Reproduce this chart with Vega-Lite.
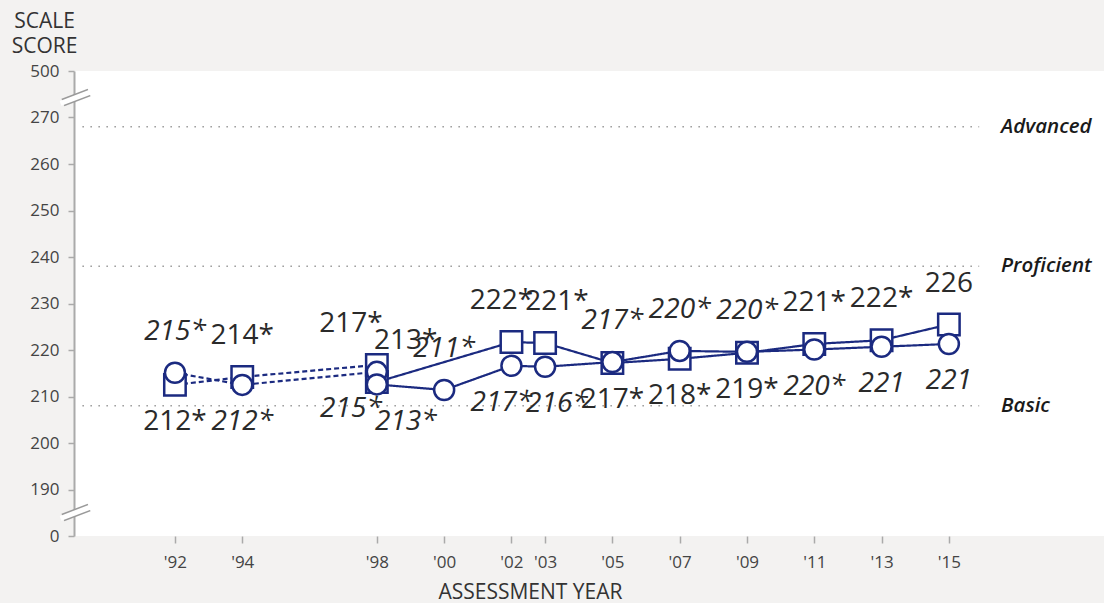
{
  "$schema": "https://vega.github.io/schema/vega-lite/v6.json",
  "width": 1030,
  "height": 465,
  "autosize": "none",
  "padding": {"left": 74, "top": 71, "right": 0, "bottom": 67},
  "background": "#f3f2f1",
  "config": {
    "view": {"fill": "white", "stroke": null},
    "font": "Open Sans",
    "axis": {"labelFont": "Open Sans", "titleFont": "Open Sans", "grid": false}
  },
  "datasets": {
    "scores": [
      {"year": 1992, "series": "sq", "accom": "np", "score": 212.5, "label": "212*"},
      {"year": 1994, "series": "sq", "accom": "np", "score": 214.2, "label": "214*"},
      {"year": 1998, "series": "sq", "accom": "np", "score": 216.8, "label": "217*"},
      {"year": 1998, "series": "sq", "accom": "p", "score": 213.1, "label": "213*"},
      {"year": 2002, "series": "sq", "accom": "p", "score": 221.7, "label": "222*"},
      {"year": 2003, "series": "sq", "accom": "p", "score": 221.5, "label": "221*"},
      {"year": 2005, "series": "sq", "accom": "p", "score": 217.2, "label": "217*"},
      {"year": 2007, "series": "sq", "accom": "p", "score": 218.1, "label": "218*"},
      {"year": 2009, "series": "sq", "accom": "p", "score": 219.4, "label": "219*"},
      {"year": 2011, "series": "sq", "accom": "p", "score": 221.3, "label": "221*"},
      {"year": 2013, "series": "sq", "accom": "p", "score": 222.1, "label": "222*"},
      {"year": 2015, "series": "sq", "accom": "p", "score": 225.5, "label": "226"},
      {"year": 1992, "series": "ci", "accom": "np", "score": 215.1, "label": "215*"},
      {"year": 1994, "series": "ci", "accom": "np", "score": 212.5, "label": "212*"},
      {"year": 1998, "series": "ci", "accom": "np", "score": 215.3, "label": "215*"},
      {"year": 1998, "series": "ci", "accom": "p", "score": 212.6, "label": "213*"},
      {"year": 2000, "series": "ci", "accom": "p", "score": 211.4, "label": "211*"},
      {"year": 2002, "series": "ci", "accom": "p", "score": 216.6, "label": "217*"},
      {"year": 2003, "series": "ci", "accom": "p", "score": 216.4, "label": "216*"},
      {"year": 2005, "series": "ci", "accom": "p", "score": 217.4, "label": "217*"},
      {"year": 2007, "series": "ci", "accom": "p", "score": 219.8, "label": "220*"},
      {"year": 2009, "series": "ci", "accom": "p", "score": 219.6, "label": "220*"},
      {"year": 2011, "series": "ci", "accom": "p", "score": 220.1, "label": "220*"},
      {"year": 2013, "series": "ci", "accom": "p", "score": 220.7, "label": "221"},
      {"year": 2015, "series": "ci", "accom": "p", "score": 221.3, "label": "221"}
    ],
    "levels": [
      {"level": "Advanced", "score": 268},
      {"level": "Proficient", "score": 238},
      {"level": "Basic", "score": 208}
    ],
    "breaks": [
      {"year": 1988.67, "year2": 1989.45, "score": 273.23, "score2": 275.38},
      {"year": 1988.67, "year2": 1989.45, "score": 183.98, "score2": 186.13}
    ]
  },
  "encoding": {
    "x": {
      "field": "year",
      "type": "quantitative",
      "scale": {"domain": [1989, 2019.61], "nice": false, "zero": false},
      "axis": {
        "values": [1992, 1994, 1998, 2000, 2002, 2003, 2005, 2007, 2009, 2011, 2013, 2015],
        "labelExpr": "\"'\" + substring(toString(datum.value), 2)",
        "domain": false,
        "ticks": true,
        "tickColor": "#aaaaaa",
        "tickSize": 7,
        "tickWidth": 1.5,
        "labelPadding": 11,
        "labelFontSize": 17,
        "labelColor": "#444444",
        "title": "ASSESSMENT YEAR",
        "titleFontSize": 21,
        "titleFontWeight": "normal",
        "titleColor": "#333333",
        "titleX": 456,
        "titleY": 62,
        "titleAlign": "center",
        "titleBaseline": "alphabetic"
      }
    },
    "y": {
      "field": "score",
      "type": "quantitative",
      "scale": {"domain": [180, 280], "nice": false, "zero": false},
      "axis": {
        "values": [180, 190, 200, 210, 220, 230, 240, 250, 260, 270, 280],
        "labelExpr": "datum.value == 180 ? '0' : datum.value == 280 ? '500' : datum.label",
        "domain": true,
        "domainColor": "#aaaaaa",
        "domainWidth": 2,
        "tickColor": "#aaaaaa",
        "tickSize": 6,
        "tickWidth": 1.5,
        "labelPadding": 9,
        "labelFontSize": 17,
        "labelColor": "#444444",
        "title": ["SCALE", "SCORE"],
        "titleAngle": 0,
        "titleAlign": "center",
        "titleBaseline": "alphabetic",
        "titleX": -30,
        "titleY": -44,
        "titleLineHeight": 25,
        "titleFontSize": 21,
        "titleFontWeight": "normal",
        "titleColor": "#333333"
      }
    }
  },
  "layer": [
    {
      "data": {"name": "levels"},
      "transform": [{"calculate": "1989.25", "as": "year"}, {"calculate": "2015.9", "as": "year2"}],
      "mark": {"type": "rule", "color": "#999999", "strokeWidth": 1.5, "strokeDash": [1.5, 6.5]},
      "encoding": {"x2": {"field": "year2"}}
    },
    {
      "data": {"name": "levels"},
      "transform": [{"calculate": "2016.55", "as": "year"}],
      "mark": {"type": "text", "align": "left", "baseline": "middle", "fontStyle": "italic", "fontWeight": 600, "fontSize": 20.5, "color": "#1a1a1a"},
      "encoding": {"text": {"field": "level", "type": "nominal"}}
    },
    {
      "data": {"values": [{}]},
      "mark": {"type": "rule", "color": "#aaaaaa", "strokeWidth": 2},
      "encoding": {"x": {"datum": 1989}, "x2": {"datum": 2016}, "y": {"datum": 180}}
    },
    {
      "data": {"name": "breaks"},
      "mark": {"type": "rule", "color": "#9a9a9a", "strokeWidth": 8, "strokeCap": "butt"},
      "encoding": {"x2": {"field": "year2"}, "y2": {"field": "score2"}}
    },
    {
      "data": {"name": "breaks"},
      "mark": {"type": "rule", "color": "#ffffff", "strokeWidth": 5, "strokeCap": "square"},
      "encoding": {"x2": {"field": "year2"}, "y2": {"field": "score2"}}
    },
    {
      "data": {"name": "scores"},
      "mark": {"type": "line", "color": "#1b2a80", "strokeWidth": 2.2},
      "encoding": {
        "detail": {"field": "series"},
        "strokeDash": {"field": "accom", "type": "nominal", "scale": {"domain": ["np", "p"], "range": [[5, 3], [1, 0]]}, "legend": null}
      }
    },
    {
      "data": {"name": "scores"},
      "transform": [{"filter": "datum.series == 'sq'"}],
      "mark": {"type": "point", "shape": "square", "filled": true, "fill": "white", "stroke": "#1b2a80", "strokeWidth": 2.5, "size": 460, "opacity": 1}
    },
    {
      "data": {"name": "scores"},
      "transform": [{"filter": "datum.series == 'ci'"}],
      "mark": {"type": "point", "shape": "circle", "filled": true, "fill": "white", "stroke": "#1b2a80", "strokeWidth": 2.5, "size": 400, "opacity": 1}
    },
    {
      "data": {"name": "scores"},
      "transform": [
        {"joinaggregate": [{"op": "max", "field": "score", "as": "maxScore"}], "groupby": ["year", "accom"]},
        {"calculate": "datum.score == datum.maxScore ? datum.score + 8.8 : datum.score - 8.0", "as": "score"},
        {"calculate": "datum.year + (datum.year == 1998 ? (datum.accom == 'np' ? -0.77 : 0.86) : datum.year == 2002 ? -0.3 : datum.year == 2003 ? 0.35 : 0)", "as": "year"},
        {"filter": "datum.series == 'sq'"}
      ],
      "mark": {"type": "text", "align": "center", "baseline": "middle", "fontSize": 28, "color": "#2a2a2a"},
      "encoding": {"text": {"field": "label"}}
    },
    {
      "data": {"name": "scores"},
      "transform": [
        {"joinaggregate": [{"op": "max", "field": "score", "as": "maxScore"}], "groupby": ["year", "accom"]},
        {"calculate": "datum.score == datum.maxScore ? datum.score + 8.8 : datum.score - 8.0", "as": "score"},
        {"calculate": "datum.year + (datum.year == 1998 ? (datum.accom == 'np' ? -0.77 : 0.86) : datum.year == 2002 ? -0.3 : datum.year == 2003 ? 0.35 : 0)", "as": "year"},
        {"filter": "datum.series == 'ci'"}
      ],
      "mark": {"type": "text", "align": "center", "baseline": "middle", "fontSize": 28, "fontStyle": "italic", "color": "#2a2a2a"},
      "encoding": {"text": {"field": "label"}}
    }
  ]
}
